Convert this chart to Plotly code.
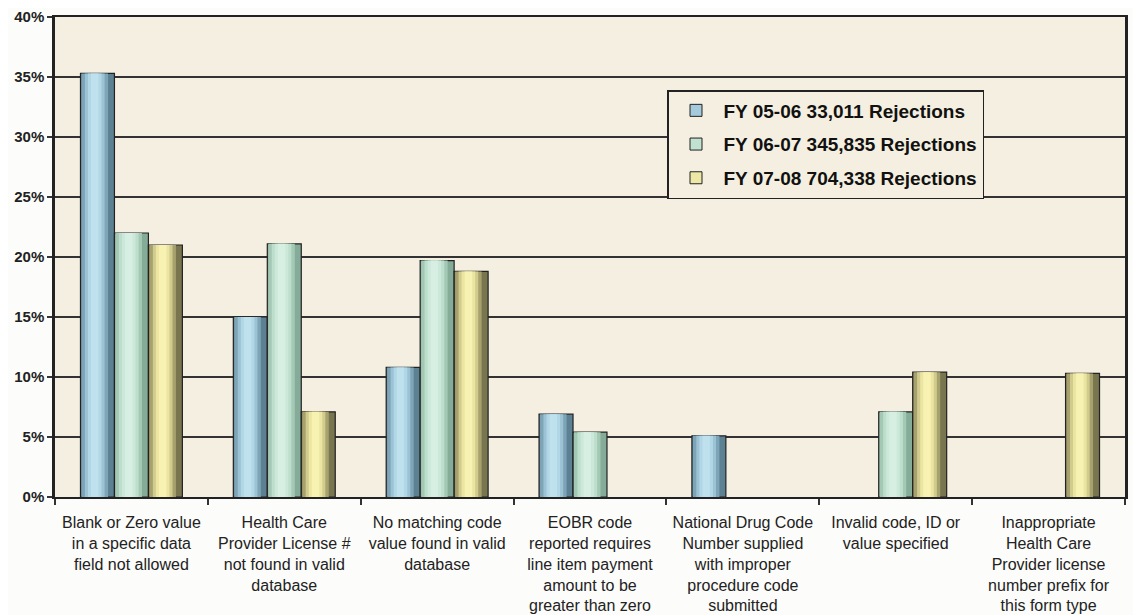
import plotly.graph_objects as go

categories = [
    "Blank or Zero value<br>in a specific data<br>field not allowed",
    "Health Care<br>Provider License #<br>not found in valid<br>database",
    "No matching code<br>value found in valid<br>database",
    "EOBR code<br>reported requires<br>line item payment<br>amount to be<br>greater than zero",
    "National Drug Code<br>Number supplied<br>with improper<br>procedure code<br>submitted",
    "Invalid code, ID or<br>value specified",
    "Inappropriate<br>Health Care<br>Provider license<br>number prefix for<br>this form type",
]

series_names = [
    "FY 05-06 33,011 Rejections",
    "FY 06-07 345,835 Rejections",
    "FY 07-08 704,338 Rejections",
]

fy0506 = [35.3, 15.0, 10.8, 6.9, 5.1, None, None]
fy0607 = [22.0, 21.1, 19.7, 5.4, None, 7.1, None]
fy0708 = [21.0, 7.1, 18.8, None, None, 10.4, 10.3]

series_values = [fy0506, fy0607, fy0708]

# cylinder-like shading: outer (base) to inner layers
palettes = [
    ["#5B8193", "#7EA5B7", "#9BC3D4", "#B1D6E5", "#BFE0ED"],
    ["#85AC98", "#A3C8B4", "#BDDECC", "#CBE8D8", "#D6EFE2"],
    ["#78754F", "#A6A16E", "#D1CB8D", "#EBE5A1", "#F8F2B2"],
]
legend_colors = ["#A4CADB", "#C2E2D1", "#EEE8A6"]
fractions = [1.0, 0.78, 0.58, 0.4, 0.22]

group_w = 2 / 3
bar_w = group_w / 3

fig = go.Figure()
for j, (name, vals) in enumerate(zip(series_names, series_values)):
    center = -group_w / 2 + bar_w * (j + 0.5)
    for k, (frac, col) in enumerate(zip(fractions, palettes[j])):
        w = bar_w * frac
        c = center - bar_w * 0.08 * (k > 0)
        fig.add_trace(go.Bar(
            x=categories, y=vals, name=name,
            width=w, offset=c - w / 2,
            marker=dict(color=col,
                        line=dict(color="#222222", width=1.2 if k == 0 else 0)),
            showlegend=False, legendgroup=name, hoverinfo="skip" if k else None,
        ))
    # legend entry only
    fig.add_trace(go.Bar(
        x=categories, y=[None] * len(categories), name=name,
        marker=dict(color=legend_colors[j], line=dict(color="#222222", width=1)),
        showlegend=True, legendgroup=name,
    ))

# page body adds an 8px margin; compensate so the chart lands where the reference has it
OFF = 8
W, H = 1141 - OFF, 615 - OFF
ml, mt = 55 - OFF, 17 - OFF
pw, ph = 1070, 480
mr, mb = W - ml - pw, H - mt - ph

fig.update_layout(
    width=W, height=H,
    margin=dict(l=ml, r=mr, t=mt, b=mb, pad=0, autoexpand=False),
    barmode="overlay",
    paper_bgcolor="#FCFCFA",
    plot_bgcolor="#F4EFE0",
    font=dict(family="Liberation Sans, Arial, sans-serif", color="#222222"),
    showlegend=True,
    legend=dict(
        x=(667 - 55) / pw, y=(497 - 90) / ph,
        xanchor="left", yanchor="top",
        bgcolor="#F4EFE0", bordercolor="#222222", borderwidth=1.5,
        font=dict(size=19, weight="bold", color="#111111"),
        traceorder="grouped", tracegroupgap=6,
        itemwidth=45,
    ),
    xaxis=dict(
        type="category", range=[-0.5, 6.5], automargin=False,
        tickson="boundaries", ticks="outside", ticklen=6, tickwidth=1.5,
        tickcolor="#333333", ticklabelstandoff=10,
        tickfont=dict(size=16, color="#222222"),
        showline=True, linecolor="#222222", linewidth=2, mirror=True,
        showgrid=False,
    ),
    yaxis=dict(
        range=[0, 40], dtick=5, ticksuffix="%", automargin=False,
        ticks="outside", ticklen=5, tickwidth=1.5, tickcolor="#333333",
        tickfont=dict(size=15, weight="bold", color="#222222"),
        showline=True, linecolor="#222222", linewidth=2.5, mirror=True,
        showgrid=True, gridcolor="#333333", gridwidth=1.5,
        zeroline=False,
    ),
)

fig.write_html("out.html")
